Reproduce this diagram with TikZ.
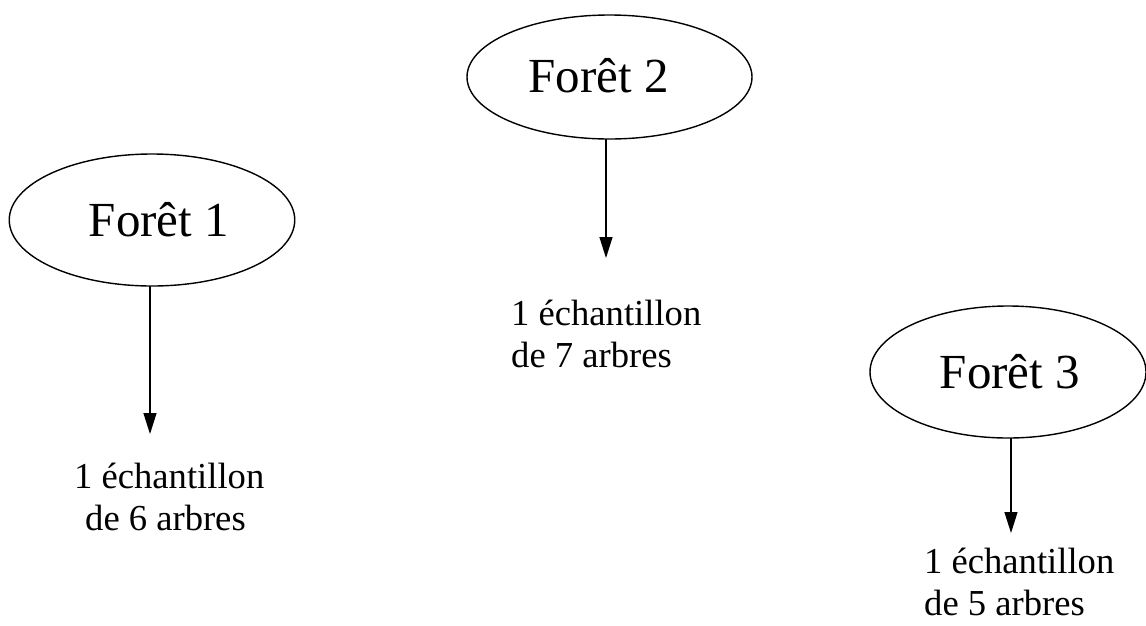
\documentclass[tikz,border=0pt]{standalone}
\usepackage{fontspec}
\setmainfont{Liberation Serif}
\usetikzlibrary{shapes.geometric,arrows.meta}
\begin{document}
\begin{tikzpicture}[x=1pt,y=-1pt,
  foret/.style={ellipse,draw,line width=1.4pt,inner sep=0pt,outer sep=0pt,
    font=\fontsize{49}{55}\selectfont},
  sample/.style={anchor=base west,inner sep=0pt,align=left,
    font=\fontsize{36.6}{42}\selectfont},
  arr/.style={line width=1.3pt,-{Triangle[length=21pt,width=13pt]}}]
\useasboundingbox (0,0) rectangle (1146,625);
\node[foret,minimum width=285.5pt,minimum height=132pt] (e1) at (152,220) {\hspace*{14pt}Forêt 1};
\node[foret,minimum width=285pt,minimum height=124pt] (e2) at (609.5,77) {\raisebox{4pt}{Forêt 2}\hspace*{22pt}};
\node[foret,minimum width=276pt,minimum height=132pt] (e3) at (1008,372) {\hspace*{4pt}Forêt 3};
\node[sample] (t1) at (74,530) {1 échantillon\\\hspace*{11pt}de 6 arbres};
\node[sample] (t2) at (511,367) {1 échantillon\\de 7 arbres};
\node[sample] (t3) at (924,615) {1 échantillon\\de 5 arbres};
\coordinate (a1) at (150,434);
\coordinate (a2) at (606,258);
\coordinate (a3) at (1011,533);
\draw[arr] (a1 |- e1.south) -- (a1);
\draw[arr] (a2 |- e2.south) -- (a2);
\draw[arr] (a3 |- e3.south) -- (a3);
\end{tikzpicture}
\end{document}
